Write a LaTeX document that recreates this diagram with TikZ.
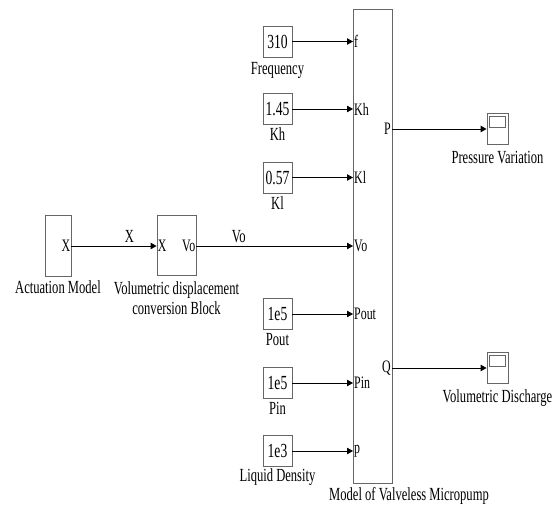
\documentclass[tikz,border=0pt]{standalone}
\usepackage{fontspec}
\setmainfont[FakeStretch=0.68]{Liberation Serif}
\usepackage{tikz}
\usetikzlibrary{arrows.meta,positioning}
\tikzset{
  blk/.style={draw=black!60, line width=0.9pt, inner sep=0pt, minimum width=29pt, minimum height=31pt, font=\fontsize{20}{22}\selectfont},
  captxt/.style={align=center, inner sep=0pt, font=\fontsize{18.5}{20}\selectfont},
  plbl/.style={inner sep=1pt, font=\fontsize{17.5}{19}\selectfont},
  sarr/.style={-{Triangle[length=6pt,width=6.5pt]}, line width=0.9pt}
}
\begin{document}
\begin{tikzpicture}[x=1pt,y=-1pt]
\useasboundingbox (0,0) rectangle (558,506);
% pump block
\node[blk, minimum width=39pt, minimum height=474pt] (pump) at (372.5,246) {};
\node[captxt, below=17pt of pump, anchor=base, xshift=36.5pt] (pumpcap) {Model of Valveless Micropump};
% constant inputs
\node[blk] (c1) at (277.5,41.5) {310};
\node[captxt, below=17pt of c1, anchor=base] {Frequency};
\node[blk] (c2) at (277.5,109) {1.45};
\node[captxt, below=16pt of c2, anchor=base] {Kh};
\node[blk] (c3) at (277.5,177.5) {0.57};
\node[captxt, below=16pt of c3, anchor=base] {Kl};
\node[blk] (c4) at (277.5,314) {1e5};
\node[captxt, below=16pt of c4, anchor=base] {Pout};
\node[blk] (c5) at (277.5,383) {1e5};
\node[captxt, below=16pt of c5, anchor=base] {Pin};
\node[blk] (c6) at (277.5,451) {1e3};
\node[captxt, below=15pt of c6, anchor=base] {Liquid Density};
% ports on pump
\coordinate (pf) at (353,41.5);
\coordinate (pkh) at (353,109);
\coordinate (pkl) at (353,177.5);
\coordinate (pvo) at (353,246);
\coordinate (ppo) at (353,314);
\coordinate (ppi) at (353,383);
\coordinate (ppp) at (353,451);
\node[plbl, anchor=west] at (pf) {f};
\node[plbl, anchor=west] at (pkh) {Kh};
\node[plbl, anchor=west] at (pkl) {Kl};
\node[plbl, anchor=west] at (pvo) {Vo};
\node[plbl, anchor=west] at (ppo) {Pout};
\node[plbl, anchor=west] at (ppi) {Pin};
\node[plbl, anchor=west] at (ppp) {p};
\coordinate (pP) at (392,129);
\coordinate (pQ) at (392,368);
\node[plbl, anchor=east] at (pP) {P};
\node[plbl, anchor=east] at (pQ) {Q};
% actuation and conversion
\node[blk, minimum width=26pt, minimum height=61pt] (act) at (58,245.5) {};
\node[captxt, below=17pt of act, anchor=base] {Actuation Model};
\node[plbl, anchor=east] (actx) at (act.east) {X};
\node[blk, minimum width=39pt, minimum height=60pt] (conv) at (176.5,245) {};
\node[captxt, below=19pt of conv, anchor=base] {Volumetric displacement};
\node[captxt, below=39pt of conv, anchor=base] {conversion Block};
\node[plbl, anchor=west] at (conv.west |- 0,246) {X};
\node[plbl, anchor=east] at (conv.east |- 0,246) {Vo};
% scopes
\node[blk, minimum width=21pt, minimum height=31pt] (sP) at (497.5,128.5) {};
\draw[black!60, line width=0.7pt] ([xshift=3pt,yshift=-4pt]sP.north west) rectangle ([xshift=-3pt,yshift=-15pt]sP.north east);
\node[captxt, below=19pt of sP, anchor=base] {Pressure Variation};
\node[blk, minimum width=21pt, minimum height=31pt] (sQ) at (497.5,367.5) {};
\draw[black!60, line width=0.7pt] ([xshift=3pt,yshift=-4pt]sQ.north west) rectangle ([xshift=-3pt,yshift=-15pt]sQ.north east);
\node[captxt, below=19pt of sQ, anchor=base] {Volumetric Discharge};
% signals
\draw[sarr] (c1) -- (pf);
\draw[sarr] (c2) -- (pkh);
\draw[sarr] (c3) -- (pkl);
\draw[sarr] (c4) -- (ppo);
\draw[sarr] (c5) -- (ppi);
\draw[sarr] (c6) -- (ppp);
\draw[sarr] (act.east |- 0,246) -- node[captxt, above=4pt, anchor=base, pos=0.68] {X} (conv.west |- 0,246);
\draw[sarr] (conv.east |- 0,246) -- node[captxt, above=4pt, anchor=base, pos=0.27] {Vo} (pvo);
\draw[sarr] (pP) -- (sP.west |- pP);
\draw[sarr] (pQ) -- (sQ.west |- pQ);
\end{tikzpicture}
\end{document}
